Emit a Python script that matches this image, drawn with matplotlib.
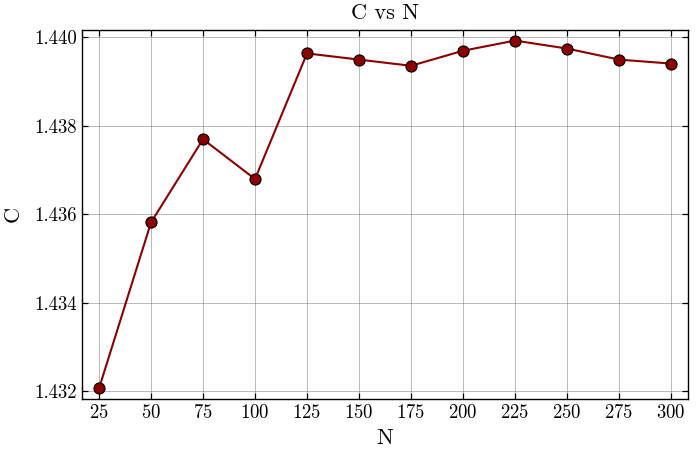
import matplotlib
matplotlib.use("Agg")
import matplotlib.pyplot as plt

N = [25, 50, 75, 100, 125, 150, 175, 200, 225, 250, 275, 300]
C = [1.43207, 1.43582, 1.43770, 1.43680, 1.43964, 1.43950, 1.43936, 1.43970,
     1.43993, 1.43975, 1.43950, 1.43941]
yticks = [1.432, 1.434, 1.436, 1.438, 1.440]

plt.rcParams['font.family'] = 'serif'
plt.rcParams['font.serif'] = ['cmr10']
plt.rcParams['mathtext.fontset'] = 'cm'
plt.rcParams['axes.unicode_minus'] = False
plt.rcParams['axes.formatter.use_mathtext'] = True

fig = plt.figure(figsize=(7, 4.5), dpi=100)
ax = fig.add_axes([0.117, 0.114, 0.866, 0.819])
ax.plot(N, C, color='#8B0000', lw=1.5, marker='o', markersize=8,
        markerfacecolor='#8B0000', markeredgecolor='black', markeredgewidth=0.8, zorder=3)
ax.margins(x=0.03, y=0.03)
ax.set_xticks(N)
ax.set_yticks(yticks)
ax.set_yticklabels([f"{v:.3f}" for v in yticks])
ax.grid(True, color='gray', alpha=0.55, lw=0.7)
ax.tick_params(direction='in', top=True, right=True, labelsize=13.5, length=4, width=0.9)
ax.set_xlabel('N', fontsize=16, labelpad=5)
ax.set_ylabel('C', fontsize=16, labelpad=8)
ax.set_title('C vs N', fontsize=16, pad=8)
for s in ax.spines.values():
    s.set_linewidth(1.0)
fig.savefig('out.png', dpi=100)
